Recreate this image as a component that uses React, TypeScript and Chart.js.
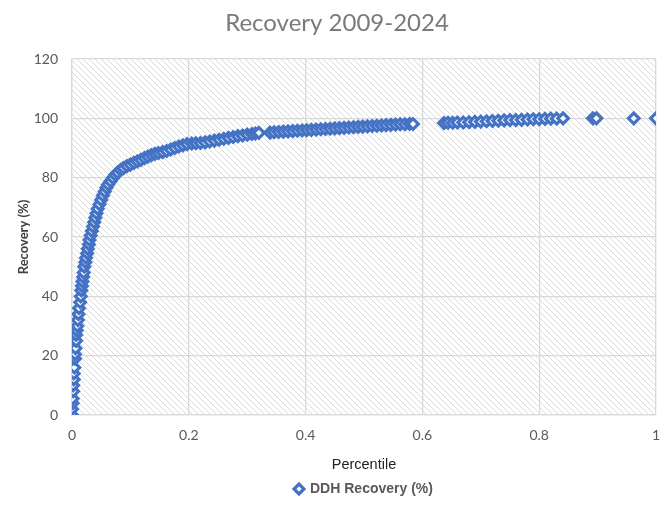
import { useEffect, useRef } from 'react';
import { Chart, registerables } from 'chart.js';

Chart.register(...registerables);

// percentile (x) and core recovery % (y)
const percentiles = [
   0.0, 0.0, 0.001, 0.001, 0.002, 0.002, 0.003, 0.003, 0.004, 0.005, 0.005, 0.006, 0.007, 0.007, 0.008,
   0.009, 0.01, 0.011, 0.012, 0.014, 0.015, 0.016, 0.017, 0.018, 0.019, 0.02, 0.021, 0.023, 0.024, 0.026,
   0.027, 0.029, 0.03, 0.032, 0.034, 0.036, 0.038, 0.04, 0.042, 0.044, 0.047, 0.05, 0.053, 0.056, 0.059,
   0.062, 0.066, 0.07, 0.074, 0.078, 0.083, 0.088, 0.094, 0.1, 0.106, 0.112, 0.118, 0.124, 0.13, 0.136,
   0.142, 0.148, 0.155, 0.162, 0.169, 0.176, 0.183, 0.19, 0.197, 0.205, 0.212, 0.22, 0.228, 0.236, 0.244,
   0.252, 0.26, 0.268, 0.276, 0.284, 0.292, 0.3, 0.308, 0.314, 0.32,
   0.339, 0.346, 0.354, 0.362, 0.37, 0.378, 0.386, 0.394, 0.402, 0.41, 0.418, 0.426, 0.434, 0.442, 0.45,
   0.458, 0.466, 0.474, 0.482, 0.49, 0.498, 0.506, 0.514, 0.522, 0.53, 0.538, 0.546, 0.554, 0.562, 0.57,
   0.578, 0.584,
   0.637, 0.644, 0.652, 0.66, 0.67, 0.68, 0.69, 0.7, 0.71, 0.72, 0.73, 0.74, 0.75, 0.76, 0.77, 0.78,
   0.79, 0.8, 0.81, 0.82, 0.83, 0.841, 0.892, 0.898, 0.962, 1.0,
];

const recovery = [
   0, 2, 4, 5.5, 8, 10, 12, 14, 16, 19, 20.5, 22.5, 25, 27, 28.5,
   30, 32, 34, 36, 38, 40, 42, 43.5, 45, 46.5, 48, 50, 51.5, 53, 54.5,
   56, 57.5, 59, 60.5, 62, 63.5, 65, 66.5, 68, 69.5, 71, 72.5, 74, 75.3, 76.6,
   77.7, 78.8, 79.9, 80.9, 81.7, 82.6, 83.2, 83.9, 84.4, 85, 85.5, 86, 86.6, 87.1, 87.6,
   88, 88.3, 88.6, 89, 89.5, 90, 90.5, 90.9, 91.3, 91.5, 91.6, 91.7, 91.9, 92.2, 92.5,
   92.8, 93.1, 93.4, 93.7, 94, 94.2, 94.5, 94.7, 94.9, 95.1,
   95.2, 95.3, 95.4, 95.5, 95.6, 95.7, 95.8, 95.9, 96, 96.1, 96.2, 96.3, 96.4, 96.5, 96.6,
   96.7, 96.8, 96.9, 97, 97.1, 97.2, 97.3, 97.4, 97.5, 97.6, 97.7, 97.8, 97.9, 98, 98,
   98.1, 98.1,
   98.4, 98.5, 98.5, 98.6, 98.6, 98.7, 98.8, 98.9, 99, 99.1, 99.2, 99.3, 99.4, 99.4, 99.5, 99.6,
   99.7, 99.7, 99.8, 99.9, 99.9, 100, 100, 100, 100, 100,
];

const xTicks = [0, 0.2, 0.4, 0.6, 0.8, 1];
const yTicks = [0, 20, 40, 60, 80, 100, 120];

const seriesLabel = 'DDH Recovery (%)';
const chartTitle = 'Recovery 2009-2024';

const BLUE = '#4472C4';
const GRID = '#d9d9d9';

// light downward-diagonal hatch behind the plot area
const hatchPlugin = {
   id: 'hatch',
   beforeDraw(chart: Chart) {
      const { ctx, chartArea: a } = chart;
      const tile = document.createElement('canvas');
      tile.width = 6;
      tile.height = 6;
      const t = tile.getContext('2d');
      if (!t) return;
      t.strokeStyle = '#dadada';
      t.lineWidth = 1;
      t.beginPath();
      t.moveTo(-1, -1);
      t.lineTo(7, 7);
      t.moveTo(5, -1);
      t.lineTo(7, 1);
      t.moveTo(-1, 5);
      t.lineTo(1, 7);
      t.stroke();
      const pattern = ctx.createPattern(tile, 'repeat');
      ctx.save();
      ctx.fillStyle = '#ffffff';
      ctx.fillRect(a.left, a.top, a.right - a.left, a.bottom - a.top);
      if (pattern) {
         ctx.fillStyle = pattern;
         ctx.fillRect(a.left, a.top, a.right - a.left, a.bottom - a.top);
      }
      ctx.restore();
   },
};

export default function App() {
   const canvasRef = useRef<HTMLCanvasElement>(null);
   const chartRef = useRef<Chart | null>(null);

   useEffect(() => {
      if (!canvasRef.current) return;
      if (chartRef.current) chartRef.current.destroy();

      const points = percentiles.map((x, i) => ({ x, y: recovery[i] }));

      chartRef.current = new Chart(canvasRef.current, {
         type: 'scatter',
         data: {
            datasets: [
               {
                  label: seriesLabel,
                  data: points,
                  showLine: false,
                  pointStyle: 'rectRot',
                  pointRadius: 5.3,
                  pointBorderWidth: 3.2,
                  pointBorderColor: BLUE,
                  pointBackgroundColor: '#ffffff',
                  borderColor: BLUE,
                  backgroundColor: '#ffffff',
               },
            ],
         },
         plugins: [hatchPlugin],
         options: {
            animation: false,
            responsive: true,
            maintainAspectRatio: false,
            layout: { padding: { top: 0, right: 16, bottom: 4, left: 18 } },
            plugins: {
               title: {
                  display: true,
                  text: chartTitle,
                  color: '#7a7a7a',
                  font: { family: 'Lato', size: 24, weight: 'normal' },
                  padding: { top: 9, bottom: 21.2 },
               },
               legend: {
                  position: 'bottom',
                  fullSize: false,
                  labels: {
                     usePointStyle: true,
                     pointStyle: 'rectRot',
                     boxWidth: 8,
                     boxHeight: 7,
                     color: '#595959',
                     font: { family: 'Liberation Sans', size: 14, weight: 'bold' },
                     padding: 10,
                  },
               },
               tooltip: { enabled: false },
            },
            scales: {
               x: {
                  type: 'linear',
                  min: xTicks[0],
                  max: xTicks[xTicks.length - 1],
                  afterBuildTicks: (scale) => {
                     scale.ticks = xTicks.map((value) => ({ value }));
                  },
                  afterFit: (scale) => {
                     scale.height = 57;
                  },
                  grid: { color: GRID, lineWidth: 1.3, drawTicks: false },
                  border: { color: GRID, width: 1.3 },
                  ticks: {
                     padding: 12,
                     color: '#595959',
                     font: { family: 'Lato', size: 14 },
                     callback: (value) => String(value),
                  },
                  title: {
                     display: true,
                     text: 'Percentile',
                     color: '#222222',
                     font: { family: 'Liberation Sans', size: 14.5 },
                     padding: { top: 4, bottom: -2 },
                  },
               },
               y: {
                  type: 'linear',
                  min: yTicks[0],
                  max: yTicks[yTicks.length - 1],
                  afterBuildTicks: (scale) => {
                     scale.ticks = yTicks.map((value) => ({ value }));
                  },
                  afterFit: (scale) => {
                     scale.width = 54;
                  },
                  grid: { color: GRID, lineWidth: 1.3, drawTicks: false },
                  border: { color: GRID, width: 1.3 },
                  ticks: {
                     padding: 14,
                     color: '#595959',
                     font: { family: 'Lato', size: 14 },
                     callback: (value) => String(value),
                  },
                  title: {
                     display: true,
                     text: 'Recovery (%)',
                     color: '#404040',
                     font: { family: 'Lato', size: 13, weight: 'bold' },
                     padding: { top: -1.8, bottom: 0 },
                  },
               },
            },
         },
      });

      return () => {
         if (chartRef.current) {
            chartRef.current.destroy();
            chartRef.current = null;
         }
      };
   }, []);

   return (
      <div style={{ position: 'fixed', left: 0, top: 0, width: 672, height: 510, background: '#fff' }}>
         <canvas ref={canvasRef} />
      </div>
   );
}
